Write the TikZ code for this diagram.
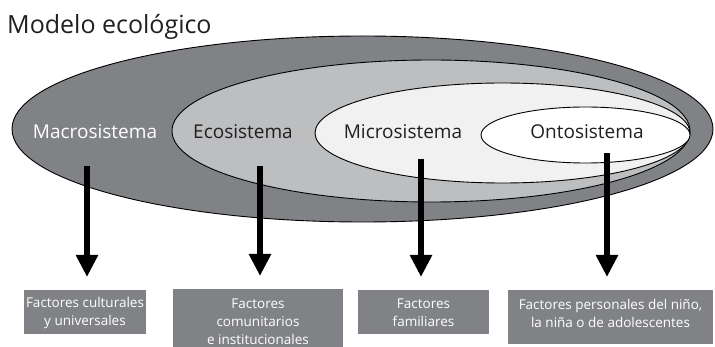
\documentclass[tikz,border=0pt]{standalone}
\usepackage{fontspec}
\setmainfont{Open Sans}
\usetikzlibrary{arrows.meta,positioning}
\definecolor{dgray}{HTML}{808285}
\definecolor{lgray}{HTML}{BCBEC0}
\definecolor{vlgray}{HTML}{F1F1F2}
\definecolor{ink}{HTML}{231F20}
\tikzset{
  sys/.style={draw=black,line width=0.9pt},
  syslabel/.style={font=\fontsize{19}{21}\selectfont,inner sep=0pt},
  factbox/.style={fill=dgray,inner sep=0pt,anchor=north west},
  facttext/.style={text=white,align=center,font=\fontsize{13.5}{18}\selectfont,inner sep=0pt},
  bigarrow/.style={line width=6pt,-{Triangle[width=21pt,length=22pt]},shorten >=13pt}
}
\begin{document}
\begin{tikzpicture}[x=1pt,y=-1pt]
\useasboundingbox (0,0) rectangle (715,347);
\fill[white] (0,0) rectangle (715,347);
\node[anchor=base west,inner sep=0pt,font=\fontsize{25}{28}\selectfont,text=ink] (title) at (7,34) {Modelo ecológico};
\draw[sys,fill=dgray] (362.5,129) ellipse [x radius=350.5,y radius=93];
\draw[sys,fill=lgray] (431,131) ellipse [x radius=259,y radius=71];
\draw[sys,fill=vlgray] (502.5,133) ellipse [x radius=187.5,y radius=50];
\draw[sys,fill=white] (585.5,135) ellipse [x radius=104.5,y radius=28];
\node[syslabel,text=white] (macro) at (95,132) {Macrosistema};
\node[syslabel,text=ink] (eco) at (243,132) {Ecosistema};
\node[syslabel,text=ink] (micro) at (403,132) {Microsistema};
\node[syslabel,text=ink] (onto) at (587,132) {Ontosistema};
\node[factbox,minimum width=122pt,minimum height=44pt] (b1) at (24,290) {};
\node[factbox,minimum width=170pt,minimum height=62pt] (b2) at (173,289) {};
\node[factbox,minimum width=131pt,minimum height=44pt] (b3) at (358,290) {};
\node[factbox,minimum width=205pt,minimum height=54pt] (b4) at (508,290) {};
\node[facttext] (t1) at (85,313) {Factores culturales\\y universales};
\node[facttext] (t2) at (258,322) {Factores\\comunitarios\\e institucionales};
\node[facttext] (t3) at (423.5,313) {Factores\\familiares};
\node[facttext] (t4) at (610.5,313) {Factores personales del niño,\\la niña o de adolescentes};
\coordinate (s1) at (87,166);
\coordinate (s2) at (260,166);
\coordinate (s3) at (421,159);
\coordinate (s4) at (607,153);
\draw[bigarrow] (s1) -- (s1 |- b1.north);
\draw[bigarrow] (s2) -- (s2 |- b2.north);
\draw[bigarrow] (s3) -- (s3 |- b3.north);
\draw[bigarrow] (s4) -- (s4 |- b4.north);
\end{tikzpicture}
\end{document}
